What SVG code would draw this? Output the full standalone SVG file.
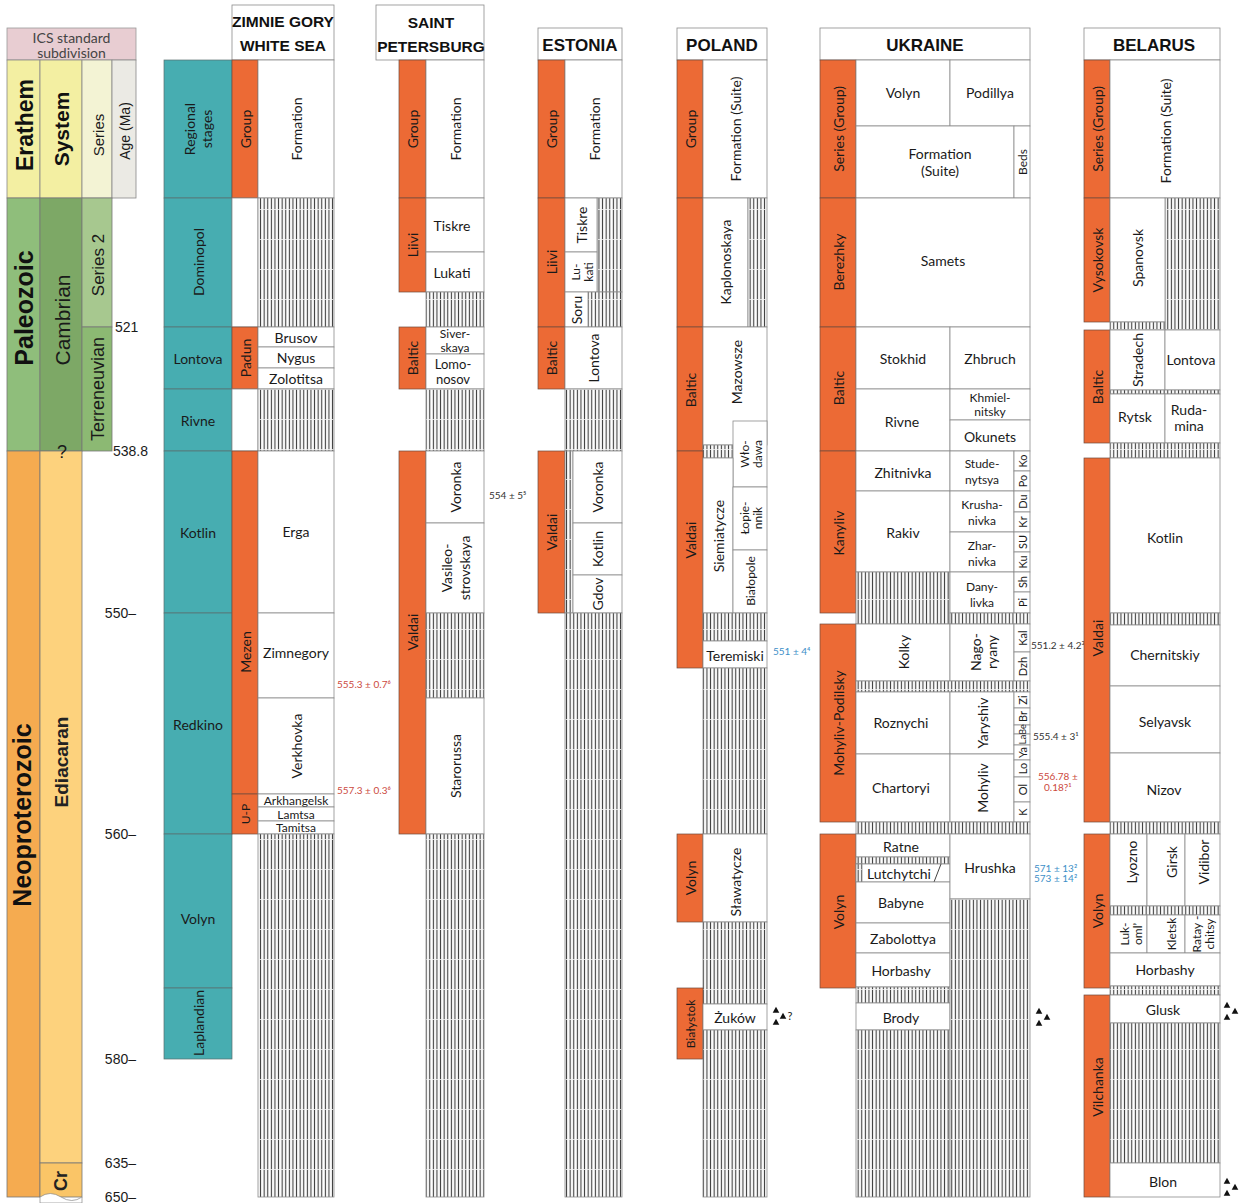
<svg xmlns="http://www.w3.org/2000/svg" width="1252" height="1203" viewBox="0 0 1252 1203">
<defs>
<pattern id="hz" width="3.6" height="30" patternUnits="userSpaceOnUse">
<rect width="3.6" height="30" fill="#fff"/>
<rect x="0.8" width="1.1" height="30" fill="#3a3a3a"/>
<rect y="29.2" width="3.6" height="0.8" fill="#f4f4f4"/>
</pattern>
<path id="tri" d="M0,-3.2 L3.3,2.8 L-3.3,2.8 Z" fill="#111"/>
<style>
.o{fill:#ec6a35;stroke:#6e4a3e;stroke-width:0.7}
.t{fill:#47adb1;stroke:#5b6e6e;stroke-width:0.7}
.w{fill:#fff;stroke:#8c8c8c;stroke-width:0.8}
.h{fill:url(#hz);stroke:#8c8c8c;stroke-width:0.8}
text{font-family:Lato,"Open Sans","Noto Sans",sans-serif;font-size:14px;fill:#1a1a1a;text-anchor:middle;dominant-baseline:central}
.hd{font-family:"Liberation Sans",Arial,sans-serif;font-weight:bold;font-size:17px;fill:#111}
.sm{font-size:12px}
.xs{font-size:11px}
.dr{font-size:10px;fill:#cc4a40;text-anchor:start}
.db{font-size:10px;fill:#3d8fc8;text-anchor:start}
.dk{font-size:10px;fill:#333;text-anchor:start}
.ics{font-family:"Liberation Sans",Arial,sans-serif}
.age{font-family:"Liberation Sans",Arial,sans-serif;font-size:14px;text-anchor:end}
</style>
</defs>
<rect width="1252" height="1203" fill="#fff"/>

<g id="ics-standard">
<rect x="7" y="28" width="129" height="32" fill="#e8cdd2" stroke="#999" stroke-width="0.8"/>
<text x="71.5" y="37" style="font-size:14px;fill:#444">ICS standard</text>
<text x="71.5" y="52" style="font-size:14px;fill:#444">subdivision</text>
<rect x="7" y="60" width="33" height="138" fill="#f3efa2" stroke="#888" stroke-width="0.8"/>
<rect x="40" y="60" width="42" height="138" fill="#f3efa2" stroke="#888" stroke-width="0.8"/>
<rect x="82" y="60" width="30" height="138" fill="#f3f3d4" stroke="#888" stroke-width="0.8"/>
<rect x="112" y="60" width="24" height="138" fill="#ebeae4" stroke="#888" stroke-width="0.8"/>
<text class="ics" transform="translate(25,125) rotate(-90)" style="font-size:23px;font-weight:bold;fill:#111">Erathem</text>
<text class="ics" transform="translate(61,129) rotate(-90)" style="font-size:21px;font-weight:bold;fill:#111">System</text>
<text class="ics" transform="translate(98,135) rotate(-90)" style="font-size:15px">Series</text>
<text class="ics" transform="translate(125,131) rotate(-90)" style="font-size:14px">Age (Ma)</text>

<rect x="7" y="198" width="33" height="253" fill="#8fbe7b" stroke="#777" stroke-width="0.8"/>
<rect x="40" y="198" width="42" height="253" fill="#7da866" stroke="#777" stroke-width="0.8"/>
<rect x="82" y="198" width="30" height="129" fill="#a7c88f" stroke="#777" stroke-width="0.8"/>
<rect x="82" y="327" width="30" height="124" fill="#8cb973" stroke="#777" stroke-width="0.8"/>
<text class="ics" transform="translate(24,308) rotate(-90)" style="font-size:25px;font-weight:bold;fill:#111">Paleozoic</text>
<text class="ics" transform="translate(62,320) rotate(-90)" style="font-size:21px;fill:#1a1a1a">Cambrian</text>
<text class="ics" transform="translate(98,265) rotate(-90)" style="font-size:17px">Series 2</text>
<text class="ics" transform="translate(98,389) rotate(-90)" style="font-size:18px">Terreneuvian</text>

<rect x="7" y="451" width="33" height="746" fill="#f5ab50" stroke="#777" stroke-width="0.8"/>
<rect x="40" y="451" width="42" height="712" fill="#fdd27d" stroke="#777" stroke-width="0.8"/>
<rect x="40" y="1163" width="42" height="34" fill="#fac567" stroke="#777" stroke-width="0.8"/>
<path d="M40,1197 Q50,1190 61,1197 T82,1197 L82,1203 L40,1203 Z" fill="#fff" stroke="#888" stroke-width="0.7"/>
<text class="ics" transform="translate(22,815) rotate(-90)" style="font-size:25px;font-weight:bold;fill:#111">Neoproterozoic</text>
<text class="ics" transform="translate(61,762) rotate(-90)" style="font-size:19px;font-weight:bold;fill:#222">Ediacaran</text>
<text class="ics" transform="translate(61,1181) rotate(-90)" style="font-size:18px;font-weight:bold;fill:#222">Cr</text>
<text class="ics" x="62" y="452" style="font-size:18px">?</text>

<text class="ics" x="115" y="327" style="font-size:14px;text-anchor:start">521</text>
<text class="ics" x="113" y="451" style="font-size:14px;text-anchor:start">538.8</text>
<text class="age" x="136" y="613">550–</text>
<text class="age" x="136" y="834">560–</text>
<text class="age" x="136" y="1059">580–</text>
<text class="age" x="136" y="1163">635–</text>
<text class="age" x="136" y="1197">650–</text>
</g>

<g id="regional-stages">
<rect class="t" x="164" y="60" width="68" height="138"/>
<text transform="translate(189,129) rotate(-90)">Regional</text>
<text transform="translate(206,129) rotate(-90)">stages</text>
<rect class="t" x="164" y="198" width="68" height="129"/>
<text transform="translate(198,262) rotate(-90)">Dominopol</text>
<rect class="t" x="164" y="327" width="68" height="62"/>
<text x="198" y="358">Lontova</text>
<rect class="t" x="164" y="389" width="68" height="62"/>
<text x="198" y="420">Rivne</text>
<rect class="t" x="164" y="451" width="68" height="162"/>
<text x="198" y="532">Kotlin</text>
<rect class="t" x="164" y="613" width="68" height="221"/>
<text x="198" y="724">Redkino</text>
<rect class="t" x="164" y="834" width="68" height="154"/>
<text x="198" y="918">Volyn</text>
<rect class="t" x="164" y="988" width="68" height="71"/>
<text transform="translate(198,1023) rotate(-90)">Laplandian</text>
</g>

<g id="zimnie-gory">
<rect class="w" x="232" y="5" width="102" height="55"/>
<text class="hd" x="283" y="21" style="font-size:15.5px">ZIMNIE GORY</text>
<text class="hd" x="283" y="45" style="font-size:15.5px">WHITE SEA</text>
<rect class="o" x="232" y="60" width="26" height="138"/>
<text transform="translate(245,129) rotate(-90)">Group</text>
<rect class="w" x="258" y="60" width="76" height="138"/>
<text transform="translate(296,129) rotate(-90)">Formation</text>
<rect class="w" x="232" y="198" width="26" height="129"/>
<rect class="h" x="258" y="198" width="76" height="129"/>
<rect class="o" x="232" y="327" width="26" height="62"/>
<text transform="translate(245,358) rotate(-90)">Padun</text>
<rect class="w" x="258" y="327" width="76" height="20"/>
<text x="296" y="337">Brusov</text>
<rect class="w" x="258" y="347" width="76" height="21"/>
<text x="296" y="357.5">Nygus</text>
<rect class="w" x="258" y="368" width="76" height="21"/>
<text x="296" y="378.5">Zolotitsa</text>
<rect class="w" x="232" y="389" width="26" height="62"/>
<rect class="h" x="258" y="389" width="76" height="62"/>
<rect class="o" x="232" y="451" width="26" height="343"/>
<text transform="translate(245,652) rotate(-90)">Mezen</text>
<rect class="w" x="258" y="451" width="76" height="162"/>
<text x="296" y="531">Erga</text>
<rect class="w" x="258" y="613" width="76" height="85"/>
<text x="296" y="652">Zimnegory</text>
<rect class="w" x="258" y="698" width="76" height="96"/>
<text transform="translate(296,746) rotate(-90)">Verkhovka</text>
<rect class="o" x="232" y="794" width="26" height="40"/>
<text class="sm" transform="translate(245,814) rotate(-90)">U-P</text>
<rect class="w" x="258" y="794" width="76" height="13"/>
<text class="sm" x="296" y="800.5">Arkhangelsk</text>
<rect class="w" x="258" y="807" width="76" height="14"/>
<text class="sm" x="296" y="814">Lamtsa</text>
<rect class="w" x="258" y="821" width="76" height="13"/>
<text class="sm" x="296" y="827.5">Tamitsa</text>
<rect class="h" x="258" y="834" width="76" height="363"/>
<text class="dr" x="337" y="684">555.3 ± 0.7⁶</text>
<text class="dr" x="337" y="790">557.3 ± 0.3⁶</text>
</g>

<g id="saint-petersburg">
<rect class="w" x="376" y="5" width="108" height="55"/>
<text class="hd" x="431" y="22" style="font-size:15.5px">SAINT</text>
<text class="hd" x="431" y="46" style="font-size:15.5px">PETERSBURG</text>
<rect class="o" x="399" y="60" width="27" height="138"/>
<text transform="translate(412.5,129) rotate(-90)">Group</text>
<rect class="w" x="426" y="60" width="58" height="138"/>
<text transform="translate(455,129) rotate(-90)">Formation</text>
<rect class="o" x="399" y="198" width="27" height="94"/>
<text transform="translate(412.5,245) rotate(-90)">Liivi</text>
<rect class="w" x="426" y="198" width="58" height="54"/>
<text x="452" y="225">Tiskre</text>
<rect class="w" x="426" y="252" width="58" height="40"/>
<text x="452" y="272">Lukati</text>
<rect class="h" x="426" y="292" width="58" height="35"/>
<rect class="o" x="399" y="327" width="27" height="62"/>
<text transform="translate(412.5,358) rotate(-90)">Baltic</text>
<rect class="w" x="426" y="327" width="58" height="27"/>
<text x="455" y="333.5" style="font-size:12px">Siver-</text>
<text x="455" y="347" style="font-size:12px">skaya</text>
<rect class="w" x="426" y="354" width="58" height="35"/>
<text x="453" y="364" style="font-size:13px">Lomo-</text>
<text x="453" y="379" style="font-size:13px">nosov</text>
<rect class="h" x="426" y="389" width="58" height="62"/>
<rect class="o" x="399" y="451" width="27" height="383"/>
<text transform="translate(412.5,632) rotate(-90)">Valdai</text>
<rect class="w" x="426" y="451" width="58" height="72"/>
<text transform="translate(455,487) rotate(-90)">Voronka</text>
<rect class="w" x="426" y="523" width="58" height="90"/>
<text transform="translate(446,568) rotate(-90)">Vasileo-</text>
<text transform="translate(464,568) rotate(-90)">strovskaya</text>
<rect class="h" x="426" y="613" width="58" height="85"/>
<rect class="w" x="426" y="698" width="58" height="136"/>
<text transform="translate(455,766) rotate(-90)">Starorussa</text>
<rect class="h" x="426" y="834" width="58" height="363"/>
<text class="dk" x="489" y="495">554 ± 5⁵</text>
</g>

<g id="estonia">
<rect class="w" x="538" y="28" width="84" height="32"/>
<text class="hd" x="580" y="45">ESTONIA</text>
<rect class="o" x="538" y="60" width="27" height="138"/>
<text transform="translate(551.5,129) rotate(-90)">Group</text>
<rect class="w" x="565" y="60" width="57" height="138"/>
<text transform="translate(594,129) rotate(-90)">Formation</text>
<rect class="o" x="538" y="198" width="27" height="129"/>
<text transform="translate(551.5,262) rotate(-90)">Liivi</text>
<rect class="h" x="597" y="198" width="25" height="94"/>
<rect class="w" x="565" y="198" width="32" height="54"/>
<text transform="translate(581,225) rotate(-90)">Tiskre</text>
<rect class="w" x="565" y="252" width="32" height="40"/>
<text class="sm" transform="translate(575,272) rotate(-90)">Lu-</text>
<text class="sm" transform="translate(588,272) rotate(-90)">kati</text>
<rect class="h" x="588" y="292" width="34" height="35"/>
<rect class="w" x="565" y="292" width="23" height="35"/>
<text transform="translate(576.5,310) rotate(-90)">Soru</text>
<rect class="o" x="538" y="327" width="27" height="62"/>
<text transform="translate(551.5,358) rotate(-90)">Baltic</text>
<rect class="w" x="565" y="327" width="57" height="62"/>
<text transform="translate(593,358) rotate(-90)">Lontova</text>
<rect class="h" x="565" y="389" width="57" height="62"/>
<rect class="o" x="538" y="451" width="27" height="162"/>
<text transform="translate(551.5,532) rotate(-90)">Valdai</text>
<rect class="h" x="565" y="451" width="8" height="162"/>
<rect class="w" x="573" y="451" width="49" height="72"/>
<text transform="translate(597,487) rotate(-90)">Voronka</text>
<rect class="w" x="573" y="523" width="49" height="52"/>
<text transform="translate(597,549) rotate(-90)">Kotlin</text>
<rect class="w" x="573" y="575" width="49" height="38"/>
<text transform="translate(597,594) rotate(-90)">Gdov</text>
<rect class="h" x="565" y="613" width="57" height="584"/>
</g>

<g id="poland">
<rect class="w" x="677" y="28" width="90" height="32"/>
<text class="hd" x="722" y="45">POLAND</text>
<rect class="o" x="677" y="60" width="26" height="138"/>
<text transform="translate(690,129) rotate(-90)">Group</text>
<rect class="w" x="703" y="60" width="64" height="138"/>
<text transform="translate(735,129) rotate(-90)">Formation (Suite)</text>
<rect class="o" x="677" y="198" width="26" height="129"/>
<rect class="w" x="703" y="198" width="45" height="129"/>
<text transform="translate(725,262) rotate(-90)">Kaplonoskaya</text>
<rect class="h" x="748" y="198" width="19" height="129"/>
<rect class="o" x="677" y="327" width="26" height="124"/>
<text transform="translate(690,390) rotate(-90)">Baltic</text>
<rect class="w" x="703" y="327" width="64" height="118"/>
<text transform="translate(736,372) rotate(-90)">Mazowsze</text>
<rect class="h" x="703" y="445" width="30" height="13"/>
<rect class="w" x="733" y="421" width="34" height="66"/>
<text class="sm" transform="translate(744,454) rotate(-90)">Wło-</text>
<text class="sm" transform="translate(757,454) rotate(-90)">dawa</text>
<rect class="o" x="677" y="451" width="26" height="217"/>
<text transform="translate(690,540) rotate(-90)">Valdai</text>
<rect class="w" x="703" y="458" width="30" height="155"/>
<text transform="translate(718,536) rotate(-90)">Siemiatycze</text>
<rect class="w" x="733" y="487" width="34" height="63"/>
<text class="sm" transform="translate(744,518) rotate(-90)">Łopie-</text>
<text class="sm" transform="translate(757,518) rotate(-90)">nnik</text>
<rect class="w" x="733" y="550" width="34" height="63"/>
<text class="sm" transform="translate(750,581) rotate(-90)">Białopole</text>
<rect class="h" x="703" y="613" width="64" height="28"/>
<rect class="w" x="703" y="641" width="64" height="27"/>
<text x="735" y="655">Teremiski</text>
<rect class="h" x="703" y="668" width="64" height="166"/>
<rect class="o" x="677" y="834" width="26" height="88"/>
<text transform="translate(690,878) rotate(-90)">Volyn</text>
<rect class="w" x="703" y="834" width="64" height="88"/>
<text transform="translate(735,882) rotate(-90)">Sławatycze</text>
<rect class="h" x="703" y="922" width="64" height="82"/>
<rect class="o" x="677" y="988" width="26" height="71"/>
<text class="sm" transform="translate(690,1024) rotate(-90)">Białystok</text>
<rect class="w" x="703" y="1004" width="64" height="26"/>
<text x="735" y="1017">Żuków</text>
<rect class="h" x="703" y="1030" width="64" height="167"/>
<text class="db" x="773" y="651">551 ± 4⁴</text>
<use href="#tri" x="776" y="1010"/>
<use href="#tri" x="783" y="1016"/>
<use href="#tri" x="776" y="1022"/>
<text class="xs" x="790" y="1015">?</text>
</g>

<g id="ukraine">
<rect class="w" x="820" y="28" width="210" height="32"/>
<text class="hd" x="925" y="45">UKRAINE</text>
<rect class="o" x="820" y="60" width="36" height="138"/>
<text transform="translate(838,129) rotate(-90)">Series (Group)</text>
<rect class="w" x="856" y="60" width="94" height="66"/>
<text x="903" y="92">Volyn</text>
<rect class="w" x="950" y="60" width="80" height="66"/>
<text x="990" y="92">Podillya</text>
<rect class="w" x="856" y="126" width="158" height="72"/>
<text x="940" y="153">Formation</text>
<text x="940" y="170">(Suite)</text>
<rect class="w" x="1014" y="126" width="16" height="72"/>
<text class="sm" transform="translate(1022,162) rotate(-90)">Beds</text>

<rect class="o" x="820" y="198" width="36" height="129"/>
<text transform="translate(838,262) rotate(-90)">Berezhky</text>
<rect class="w" x="856" y="198" width="174" height="129"/>
<text x="943" y="260">Samets</text>

<rect class="o" x="820" y="327" width="36" height="124"/>
<text transform="translate(838,388) rotate(-90)">Baltic</text>
<rect class="w" x="856" y="327" width="94" height="62"/>
<text x="903" y="358">Stokhid</text>
<rect class="w" x="950" y="327" width="80" height="62"/>
<text x="990" y="358">Zhbruch</text>
<rect class="w" x="856" y="389" width="94" height="62"/>
<text x="902" y="421">Rivne</text>
<rect class="w" x="950" y="389" width="80" height="31"/>
<text class="sm" x="990" y="397.5">Khmiel-</text>
<text class="sm" x="990" y="411.5">nitsky</text>
<rect class="w" x="950" y="420" width="80" height="31"/>
<text x="990" y="436">Okunets</text>

<rect class="o" x="820" y="451" width="36" height="162"/>
<text transform="translate(838,533) rotate(-90)">Kanyliv</text>
<rect class="w" x="856" y="451" width="94" height="40"/>
<text x="903" y="472">Zhitnivka</text>
<rect class="w" x="856" y="491" width="94" height="81"/>
<text x="903" y="532">Rakiv</text>
<rect class="h" x="856" y="572" width="94" height="52"/>
<rect class="w" x="950" y="451" width="64" height="40"/>
<text class="sm" x="982" y="463">Stude-</text>
<text class="sm" x="982" y="479">nytsya</text>
<rect class="w" x="950" y="491" width="64" height="41"/>
<text class="sm" x="982" y="504">Krusha-</text>
<text class="sm" x="982" y="520">nivka</text>
<rect class="w" x="950" y="532" width="64" height="40"/>
<text class="sm" x="982" y="545">Zhar-</text>
<text class="sm" x="982" y="561">nivka</text>
<rect class="w" x="950" y="572" width="64" height="41"/>
<text class="sm" x="982" y="586">Dany-</text>
<text class="sm" x="982" y="602">livka</text>
<rect class="w" x="1014" y="451" width="16" height="20"/>
<text class="xs" transform="translate(1022,461) rotate(-90)">Ko</text>
<rect class="w" x="1014" y="471" width="16" height="20"/>
<text class="xs" transform="translate(1022,481) rotate(-90)">Po</text>
<rect class="w" x="1014" y="491" width="16" height="21"/>
<text class="xs" transform="translate(1022,501.5) rotate(-90)">Du</text>
<rect class="w" x="1014" y="512" width="16" height="20"/>
<text class="xs" transform="translate(1022,522) rotate(-90)">Kr</text>
<rect class="w" x="1014" y="532" width="16" height="20"/>
<text class="xs" transform="translate(1022,542) rotate(-90)">SU</text>
<rect class="w" x="1014" y="552" width="16" height="20"/>
<text class="xs" transform="translate(1022,562) rotate(-90)">Ku</text>
<rect class="w" x="1014" y="572" width="16" height="20"/>
<text class="xs" transform="translate(1022,582) rotate(-90)">Sh</text>
<rect class="w" x="1014" y="592" width="16" height="21"/>
<text class="xs" transform="translate(1022,602.5) rotate(-90)">Pi</text>
<rect class="h" x="950" y="613" width="80" height="11"/>

<rect class="o" x="820" y="624" width="36" height="198"/>
<text transform="translate(838,723) rotate(-90)">Mohyliv-Podilsky</text>
<rect class="w" x="856" y="624" width="94" height="57"/>
<text transform="translate(903,652) rotate(-90)">Kolky</text>
<rect class="w" x="950" y="624" width="64" height="57"/>
<text transform="translate(975,652) rotate(-90)">Nago-</text>
<text transform="translate(991,652) rotate(-90)">ryany</text>
<rect class="w" x="1014" y="624" width="16" height="28"/>
<text class="xs" transform="translate(1022,638) rotate(-90)">Kal</text>
<rect class="w" x="1014" y="652" width="16" height="29"/>
<text class="xs" transform="translate(1022,666.5) rotate(-90)">Dzh</text>
<rect class="h" x="856" y="681" width="174" height="11"/>
<rect class="w" x="856" y="692" width="94" height="62"/>
<text x="901" y="722">Roznychi</text>
<rect class="w" x="950" y="692" width="64" height="62"/>
<text transform="translate(982,723) rotate(-90)">Yaryshiv</text>
<rect class="w" x="856" y="754" width="94" height="68"/>
<text x="901" y="787">Chartoryi</text>
<rect class="w" x="950" y="754" width="64" height="68"/>
<text transform="translate(982,788) rotate(-90)">Mohyliv</text>
<rect class="w" x="1014" y="692" width="16" height="16"/>
<text class="xs" transform="translate(1022,700) rotate(-90)">Zi</text>
<rect class="w" x="1014" y="708" width="16" height="17"/>
<text class="xs" transform="translate(1022,716.5) rotate(-90)">Br</text>
<rect class="w" x="1014" y="725" width="16" height="9"/>
<text transform="translate(1022,729.5) rotate(-90)" style="font-size:9px">Be</text>
<rect class="w" x="1014" y="734" width="16" height="11"/>
<text transform="translate(1022,739.5) rotate(-90)" style="font-size:10px">La</text>
<rect class="w" x="1014" y="745" width="16" height="15"/>
<text class="xs" transform="translate(1022,752.5) rotate(-90)">Ya</text>
<rect class="w" x="1014" y="760" width="16" height="17"/>
<text class="xs" transform="translate(1022,768.5) rotate(-90)">Lo</text>
<rect class="w" x="1014" y="777" width="16" height="25"/>
<text class="xs" transform="translate(1022,789.5) rotate(-90)">Ol</text>
<rect class="w" x="1014" y="802" width="16" height="20"/>
<text class="xs" transform="translate(1022,812) rotate(-90)">K</text>
<rect class="h" x="856" y="822" width="174" height="12"/>

<rect class="o" x="820" y="834" width="36" height="154"/>
<text transform="translate(838,912) rotate(-90)">Volyn</text>
<rect class="w" x="856" y="834" width="94" height="23"/>
<text x="901" y="846">Ratne</text>
<rect class="h" x="856" y="857" width="94" height="7"/>
<rect class="w" x="856" y="864" width="94" height="18"/>
<rect class="h" x="856" y="864" width="6" height="18"/>
<text x="899" y="873">Lutchytchi</text>
<line x1="941" y1="864" x2="934" y2="882" stroke="#444" stroke-width="1"/>
<rect class="w" x="856" y="882" width="94" height="41"/>
<text x="901" y="902">Babyne</text>
<rect class="w" x="856" y="923" width="94" height="30"/>
<text x="903" y="938">Zabolottya</text>
<rect class="w" x="856" y="953" width="94" height="34"/>
<text x="901" y="970">Horbashy</text>
<rect class="h" x="856" y="987" width="94" height="16"/>
<rect class="w" x="856" y="1003" width="94" height="27"/>
<text x="901" y="1017">Brody</text>
<rect class="h" x="856" y="1030" width="94" height="167"/>
<rect class="w" x="950" y="834" width="80" height="65"/>
<text x="990" y="867">Hrushka</text>
<rect class="h" x="950" y="899" width="80" height="298"/>

<text class="dk" x="1031" y="645">551.2 ± 4.2³</text>
<text class="dk" x="1033" y="736">555.4 ± 3¹</text>
<text class="dr" x="1038" y="776">556.78 ±</text>
<text class="dr" x="1044" y="787">0.18?¹</text>
<text class="db" x="1034" y="868">571 ± 13²</text>
<text class="db" x="1034" y="878">573 ± 14²</text>
<use href="#tri" x="1039" y="1011"/>
<use href="#tri" x="1047" y="1017"/>
<use href="#tri" x="1039" y="1023"/>
</g>

<g id="belarus">
<rect class="w" x="1084" y="28" width="136" height="32"/>
<text class="hd" x="1154" y="45">BELARUS</text>
<rect class="o" x="1084" y="60" width="26" height="138"/>
<text transform="translate(1097,129) rotate(-90)">Series (Group)</text>
<rect class="w" x="1110" y="60" width="110" height="138"/>
<text transform="translate(1165,131) rotate(-90)">Formation (Suite)</text>

<rect class="o" x="1084" y="198" width="26" height="124"/>
<text transform="translate(1097,260) rotate(-90)">Vysokovsk</text>
<rect class="h" x="1165" y="198" width="55" height="132"/>
<rect class="w" x="1110" y="198" width="55" height="124"/>
<text transform="translate(1137,258) rotate(-90)">Spanovsk</text>
<rect class="h" x="1110" y="322" width="55" height="8"/>

<rect class="o" x="1084" y="330" width="26" height="113"/>
<text transform="translate(1097,387) rotate(-90)">Baltic</text>
<rect class="w" x="1110" y="330" width="55" height="60"/>
<text transform="translate(1137,360) rotate(-90)">Stradech</text>
<rect class="w" x="1165" y="330" width="55" height="60"/>
<text x="1191" y="359">Lontova</text>
<rect class="h" x="1110" y="390" width="110" height="4"/>
<rect class="w" x="1110" y="394" width="55" height="49"/>
<text x="1135" y="416">Rytsk</text>
<rect class="w" x="1165" y="394" width="55" height="49"/>
<text x="1189" y="409">Ruda-</text>
<text x="1189" y="425">mina</text>
<rect class="h" x="1110" y="443" width="110" height="15"/>

<rect class="o" x="1084" y="458" width="26" height="364"/>
<text transform="translate(1097,638) rotate(-90)">Valdai</text>
<rect class="w" x="1110" y="458" width="110" height="155"/>
<text x="1165" y="537">Kotlin</text>
<rect class="h" x="1110" y="613" width="110" height="12"/>
<rect class="w" x="1110" y="625" width="110" height="61"/>
<text x="1165" y="654">Chernitskiy</text>
<rect class="w" x="1110" y="686" width="110" height="67"/>
<text x="1165" y="721">Selyavsk</text>
<rect class="w" x="1110" y="753" width="110" height="69"/>
<text x="1164" y="789">Nizov</text>
<rect class="h" x="1110" y="822" width="110" height="12"/>

<rect class="o" x="1084" y="834" width="26" height="154"/>
<text transform="translate(1097,911) rotate(-90)">Volyn</text>
<rect class="w" x="1110" y="834" width="37" height="72"/>
<text transform="translate(1131,862) rotate(-90)">Lyozno</text>
<rect class="w" x="1147" y="834" width="38" height="72"/>
<text transform="translate(1171,862) rotate(-90)">Girsk</text>
<rect class="w" x="1185" y="834" width="35" height="72"/>
<text transform="translate(1203,862) rotate(-90)">Vidibor</text>
<rect class="h" x="1110" y="906" width="110" height="9"/>
<rect class="w" x="1110" y="915" width="37" height="38"/>
<text class="sm" transform="translate(1124,934) rotate(-90)">Luk-</text>
<text class="sm" transform="translate(1137,934) rotate(-90)">oml’</text>
<rect class="w" x="1147" y="915" width="38" height="38"/>
<text class="sm" transform="translate(1171,934) rotate(-90)">Kletsk</text>
<rect class="w" x="1185" y="915" width="35" height="38"/>
<text class="sm" transform="translate(1196,934) rotate(-90)">Ratay -</text>
<text class="sm" transform="translate(1209,934) rotate(-90)">chitsy</text>
<rect class="w" x="1110" y="953" width="110" height="33"/>
<text x="1165" y="969">Horbashy</text>
<rect class="h" x="1110" y="986" width="110" height="9"/>

<rect class="o" x="1084" y="995" width="26" height="202"/>
<text transform="translate(1097,1087) rotate(-90)">Vilchanka</text>
<rect class="w" x="1110" y="995" width="110" height="28"/>
<text x="1163" y="1009">Glusk</text>
<rect class="h" x="1110" y="1023" width="110" height="140"/>
<rect class="w" x="1110" y="1163" width="110" height="34"/>
<text x="1163" y="1181">Blon</text>
<use href="#tri" x="1227" y="1005"/>
<use href="#tri" x="1235" y="1011"/>
<use href="#tri" x="1227" y="1017"/>
<use href="#tri" x="1227" y="1181"/>
<use href="#tri" x="1235" y="1187"/>
<use href="#tri" x="1227" y="1193"/>
</g>
</svg>
